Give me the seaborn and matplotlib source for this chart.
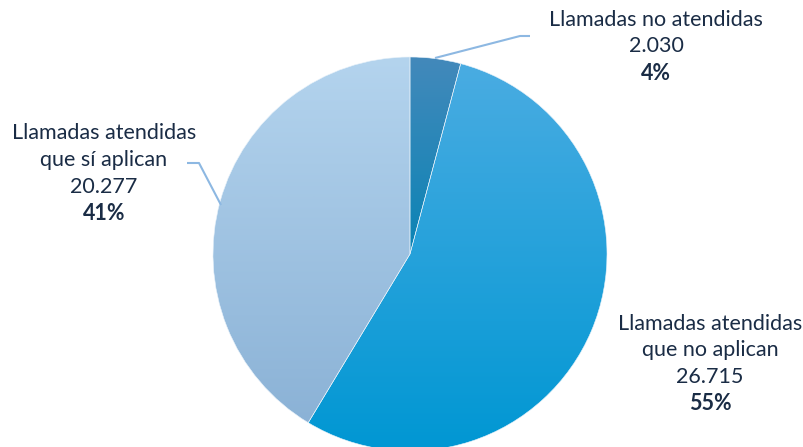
import numpy as np
import matplotlib
matplotlib.use("Agg")
import matplotlib.pyplot as plt
import seaborn as sns
from matplotlib.colors import LinearSegmentedColormap

# ---- data ----
categories = ["Llamadas no atendidas",
              "Llamadas atendidas\nque no aplican",
              "Llamadas atendidas\nque sí aplican"]
values = [2030, 26715, 20277]
value_labels = ["2.030", "26.715", "20.277"]
pct_labels = ["4%", "55%", "41%"]

sns.set_theme(style="white")
plt.rcParams['font.family'] = ['Lato', 'DejaVu Sans']

W, H = 804, 447
R, cx, cy = 197, 410, 254

fig = plt.figure(figsize=(W / 100, H / 100), dpi=100)
ax = fig.add_axes([0, 0, 1, 1])

wedges, _ = ax.pie(values, startangle=90, counterclock=False, radius=1,
                   center=(0, 0),
                   wedgeprops=dict(linewidth=0.4, edgecolor='#E8F2FA'))

# vertical gradients per slice: (top color, bottom color, y_top, y_bottom)
grads = [("#4389BB", "#0A84B5", 1.0, 0.0),
         ("#4AACE2", "#0097D3", 0.97, -1.0),
         ("#B4D4EE", "#8BB2D6", 1.0, -0.86)]
img = np.linspace(0, 1, 256).reshape(-1, 1)
for w, (ctop, cbot, yt, yb) in zip(wedges, grads):
    cmap = LinearSegmentedColormap.from_list("g", [cbot, ctop])
    im = ax.imshow(img, cmap=cmap, extent=(-1.01, 1.01, yb, yt), origin='lower',
                   aspect='auto', zorder=1, interpolation='bilinear')
    im.set_clip_path(w)
    w.set_facecolor('none')
    w.set_zorder(2)

def d(px, py):
    return ((px - cx) / R, (cy - py) / R)

txt_color = "#1A2C45"
fs = 15.5
label_pos = [(656, [20, 46, 74]),
             (710, [324, 350, 377, 404]),
             (104, [133, 160, 187, 214])]
for cat, val, pct, (px, ys) in zip(categories, value_labels, pct_labels, label_pos):
    lines = cat.split("\n") + [val]
    for line, py in zip(lines, ys[:-1]):
        x, y = d(px, py)
        ax.text(x, y, line, ha='center', va='center', fontsize=fs, color=txt_color)
    x, y = d(px, ys[-1])
    ax.text(x, y, pct, ha='center', va='center', fontsize=fs, color=txt_color,
            fontweight='bold')

lead_color = "#8DB8E2"
for pts in ([(435, 58), (520, 36), (530, 36)],
            [(187, 163), (199, 163), (221, 205)]):
    xs, ys = zip(*[d(*p) for p in pts])
    ax.plot(xs, ys, color=lead_color, lw=1.5, zorder=3, solid_capstyle='butt')

ax.set_xlim(-cx / R, (W - cx) / R)
ax.set_ylim(-(H - cy) / R, cy / R)
ax.set_aspect('auto')
ax.axis('off')

fig.savefig("out.png", dpi=100, facecolor='white')
